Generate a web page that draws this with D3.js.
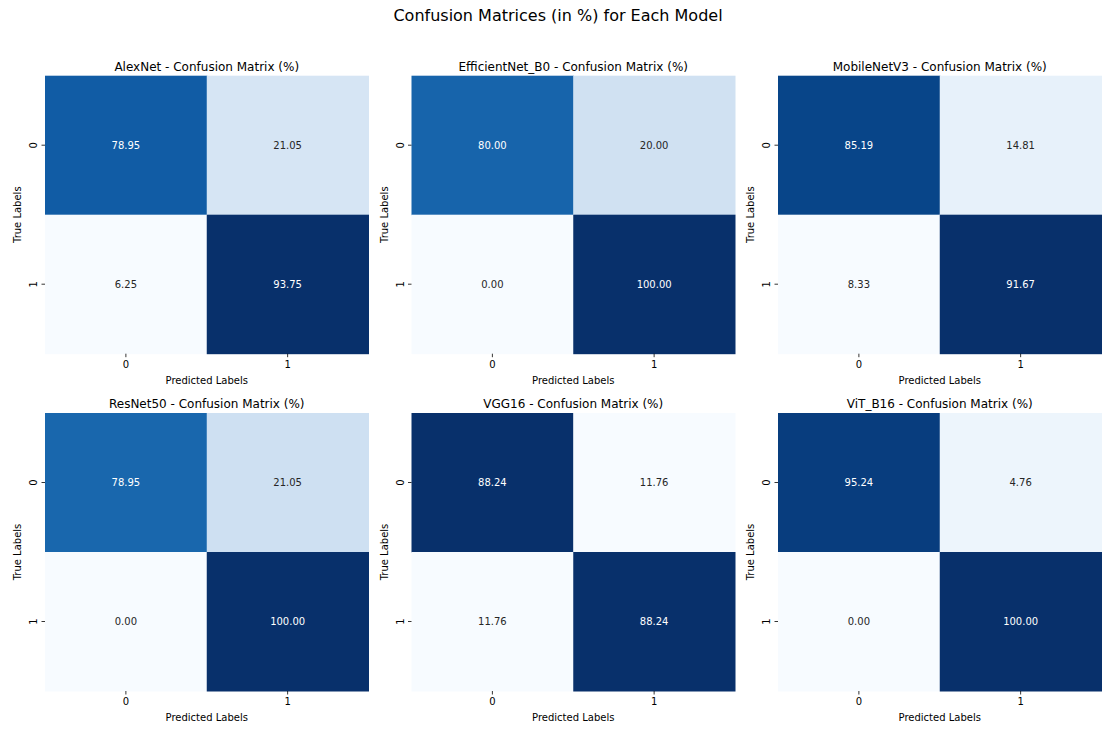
<!DOCTYPE html>
<html><head><meta charset="utf-8">
<script src="https://cdn.jsdelivr.net/npm/d3@7"></script>
<style>body{margin:0;background:#fff}svg{display:block}text{font-family:"DejaVu Sans",sans-serif}</style>
</head><body><svg id="c" width="1116" height="732"></svg>
<script>
const models = ["AlexNet","EfficientNet_B0","MobileNetV3","ResNet50","VGG16","ViT_B16"];
const alexnet = [[78.95,21.05],[6.25,93.75]];
const efficientnet = [[80.00,20.00],[0.00,100.00]];
const mobilenet = [[85.19,14.81],[8.33,91.67]];
const resnet = [[78.95,21.05],[0.00,100.00]];
const vgg = [[88.24,11.76],[11.76,88.24]];
const vit = [[95.24,4.76],[0.00,100.00]];
const matrices = [alexnet,efficientnet,mobilenet,resnet,vgg,vit];
const labels = ["0","1"];

const blues = d3.piecewise(d3.interpolateRgb, ['#f7fbff','#deebf7','#c6dbef','#9ecae1','#6baed6','#4292c6','#2171b5','#08519c','#08306b']);
const svg = d3.select("#c");
svg.append("text").attr("x",558).attr("y",21).attr("text-anchor","middle").attr("font-size",16).attr("fill","#000").text("Confusion Matrices (in %) for Each Model");

const lefts=[45,411.5,778], tops=[75.7,413], W=323.5, H=278;
matrices.forEach((m,i)=>{
  const col=i%3,row=Math.floor(i/3);
  const g=svg.append("g").attr("transform",`translate(${lefts[col]},${tops[row]})`);
  const x=d3.scaleBand().domain(labels).range([0,W]);
  const y=d3.scaleBand().domain(labels).range([0,H]);
  const flat=m.flat();
  const c=d3.scaleLinear().domain([d3.min(flat),d3.max(flat)]).range([0,1]);
  const cells=[];
  m.forEach((r,ri)=>r.forEach((v,ci)=>cells.push({r:labels[ri],c:labels[ci],v})));
  g.selectAll("rect").data(cells).join("rect")
    .attr("x",d=>x(d.c)).attr("y",d=>y(d.r)).attr("width",x.bandwidth()+0.5).attr("height",y.bandwidth()+0.5)
    .attr("fill",d=>blues(c(d.v)));
  g.selectAll("text.v").data(cells).join("text").attr("class","v")
    .attr("x",d=>x(d.c)+x.bandwidth()/2).attr("y",d=>y(d.r)+y.bandwidth()/2).attr("dy","0.35em")
    .attr("text-anchor","middle").attr("font-size",10)
    .attr("fill",d=>{const col=d3.rgb(blues(c(d.v)));const L=(0.2126*lin(col.r)+0.7152*lin(col.g)+0.0722*lin(col.b));return L<0.408?"#ffffff":"#262626";})
    .text(d=>d.v.toFixed(2));
  const xa=g.append("g").attr("transform",`translate(0,${H})`).call(d3.axisBottom(x).tickSize(3.5).tickPadding(3.5));
  xa.select(".domain").remove();
  xa.selectAll("text").attr("font-size",10).attr("fill","#000").attr("font-family","DejaVu Sans");
  xa.selectAll("line").attr("stroke","#000").attr("stroke-width",0.8);
  const ya=g.append("g").call(d3.axisLeft(y).tickSize(3.5).tickPadding(3.5));
  ya.select(".domain").remove();
  ya.selectAll("line").attr("stroke","#000").attr("stroke-width",0.8);
  ya.selectAll("text").attr("font-size",10).attr("fill","#000").attr("font-family","DejaVu Sans")
    .attr("text-anchor","middle").attr("dy",null).attr("x",null)
    .attr("transform","translate(-11,0) rotate(-90)").attr("dy","0.32em");
  g.append("text").attr("x",W/2).attr("y",-5).attr("text-anchor","middle").attr("font-size",12).attr("fill","#000").text(models[i]+" - Confusion Matrix (%)");
  g.append("text").attr("x",W/2).attr("y",H+30).attr("text-anchor","middle").attr("font-size",10).attr("fill","#000").text("Predicted Labels");
  g.append("text").attr("transform",`translate(-24,${H/2}) rotate(-90)`).attr("text-anchor","middle").attr("font-size",10).attr("fill","#000").text("True Labels");
});
function lin(v){v/=255;return v<=0.03928?v/12.92:Math.pow((v+0.055)/1.055,2.4);}
</script></body></html>
